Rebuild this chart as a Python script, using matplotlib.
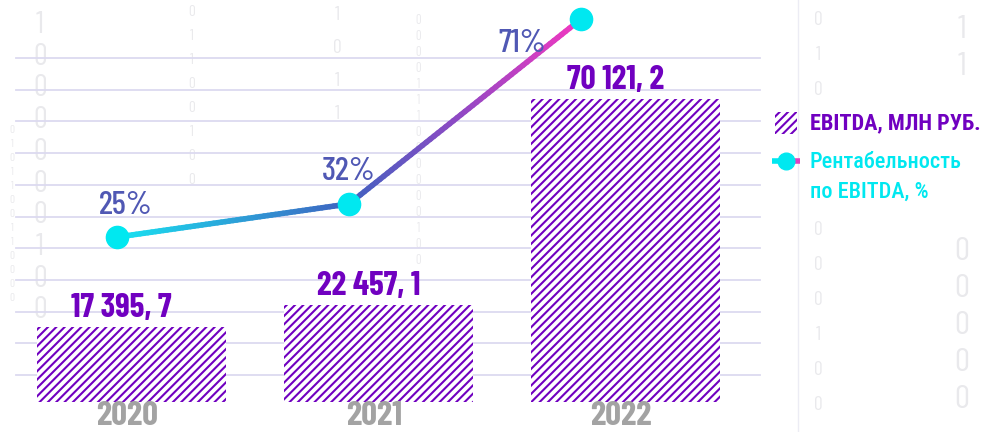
import numpy as np
import matplotlib
matplotlib.use('Agg')
import matplotlib.pyplot as plt
from matplotlib import font_manager
from matplotlib.ft2font import FT2Font
from matplotlib.collections import LineCollection
from matplotlib.colors import LinearSegmentedColormap
from matplotlib.patches import Rectangle

years = ['2020', '2021', '2022']
ebitda = [17395.7, 22457.1, 70121.2]
ebitda_labels = ['17 395, 7', '22 457, 1', '70 121, 2']
margin = [25, 32, 71]
margin_labels = ['25%', '32%', '71%']
legend_bar = 'EBITDA, МЛН РУБ.'
legend_line = 'Рентабельность\nпо EBITDA, %'

# decorative "binary" background columns: x, first y, step, font size, digits (space = gap)
binary_cols = [
    (40, 25, 31.7, 22, '1000000100'),
    (192, 12, 24, 11, '01100100'),
    (337, 15, 33, 14, '1011'),
    (418, 20, 16, 9, '0000111000000100'),
    (12, 130, 14, 8, '0101100110000'),
    (818, 20, 35, 14, '010   000100'),
    (962, 30, 37, 24, '11    00000'),
]


def pick_font(prefs, char=None):
    for name in prefs:
        for f in font_manager.fontManager.ttflist:
            if f.name != name:
                continue
            if char is None:
                return name
            try:
                if ord(char) in FT2Font(f.fname).get_charmap():
                    return name
            except Exception:
                pass
    return 'DejaVu Sans'


cond = ['Barlow Condensed', 'Roboto Condensed', 'Open Sans Condensed', 'PT Sans Narrow',
        'Archivo Narrow', 'Asap Condensed', 'Liberation Sans Narrow']
num_font = pick_font(cond)
cyr_font = pick_font(cond, 'Р')
plt.rcParams['font.family'] = [num_font, cyr_font, 'DejaVu Sans']
plt.rcParams['hatch.linewidth'] = 1.5

purple = '#7000c0'
cyan = '#00e8f0'

W, H = 982, 432
fig = plt.figure(figsize=(W / 100, H / 100), dpi=100)

# background grid and digits (pixel coords)
bg = fig.add_axes([0, 0, 1, 1])
bg.set_xlim(0, W)
bg.set_ylim(H, 0)
bg.axis('off')
for cx, cy, step, size, digits in binary_cols:
    for i, d in enumerate(digits):
        if d == ' ':
            continue
        bg.text(cx, cy + i * step, d, ha='center', va='center', fontsize=size,
                color='#e9e9ec', zorder=0)
for y in np.linspace(58, 375, 11):
    bg.plot([16, 760], [y, y], color='#dcdaf0', lw=1.3, zorder=1)
bg.plot([798, 798], [0, H], color='#ececf4', lw=1, zorder=1)

# bars
ax = fig.add_axes([0, 0, 1, 1])
ax.patch.set_alpha(0)
ax.axis('off')
x = np.arange(len(years))
ax.set_xlim(-131 / 247, (W - 131) / 247)
k = 70121.2 / 303
ax.set_ylim(-30 * k, (H - 30) * k)
ax.bar(x, ebitda, width=189 / 247, color='white', edgecolor=purple, linewidth=0, hatch='////', zorder=2)
for xi, v, lab in zip(x, ebitda, ebitda_labels):
    ax.annotate(lab, (xi, v), xytext=(-7, 3), textcoords='offset points', ha='center', va='bottom',
                fontsize=24, fontweight='bold', color=purple, zorder=5)
for xi, yr in zip(x, years):
    ax.annotate(yr, (xi, 0), xytext=(-3, 1), textcoords='offset points', ha='center', va='top',
                fontsize=25, fontweight='bold', color='#a3a3a3', zorder=5)

# margin line
lx = fig.add_axes([0, 0, 1, 1])
lx.patch.set_alpha(0)
lx.axis('off')
lx.set_xlim(-117 / 232, (W - 117) / 232)
lx.set_ylim(-76.4 / 4.74, (H - 76.4) / 4.74)
cmap = LinearSegmentedColormap.from_list('g', [(0, '#18e4f2'), (0.5, '#3f62c0'),
                                               (0.75, '#9248c4'), (1, '#f238c0')])
segs, cols = [], []
n = 60
for i in range(len(x) - 1):
    t = np.linspace(0, 1, n + 1)
    xs = x[i] + (x[i + 1] - x[i]) * t
    ys = margin[i] + (margin[i + 1] - margin[i]) * t
    pts = np.column_stack([xs, ys])
    for j in range(n):
        segs.append(pts[j:j + 2])
        cols.append((i + (j + 0.5) / n) / (len(x) - 1))
lc = LineCollection(segs, colors=cmap(np.array(cols)), linewidths=4, capstyle='round', zorder=3)
lx.add_collection(lc)
lx.plot(x, margin, 'o', color=cyan, ms=16, zorder=4)
offs = [(6, 12), (0, 13), (-42, -28)]
for xi, v, lab, o in zip(x, margin, margin_labels, offs):
    lx.annotate(lab, (xi, v), xytext=o, textcoords='offset points', ha='center', va='bottom',
                fontsize=24, fontweight='medium', color='#5058b4', zorder=5)

# legend
bg.add_patch(Rectangle((775, 112), 22, 22, facecolor='white', edgecolor=purple, linewidth=0,
                       hatch='////', zorder=2))
bg.text(810, 123, legend_bar, ha='left', va='center', fontsize=16, fontweight='bold',
        color=purple, family=[cyr_font, 'DejaVu Sans'])
bg.plot([772, 786], [161, 161], color=cyan, lw=4, solid_capstyle='butt')
bg.plot([786, 800], [161, 161], color='#e040c0', lw=4, solid_capstyle='butt')
bg.plot([786], [161], 'o', color=cyan, ms=12)
bg.text(810, 177, legend_line, ha='left', va='center', fontsize=16, fontweight='medium',
        color=cyan, linespacing=1.45, family=[cyr_font, 'DejaVu Sans'])

fig.savefig('out.png', dpi=100)
